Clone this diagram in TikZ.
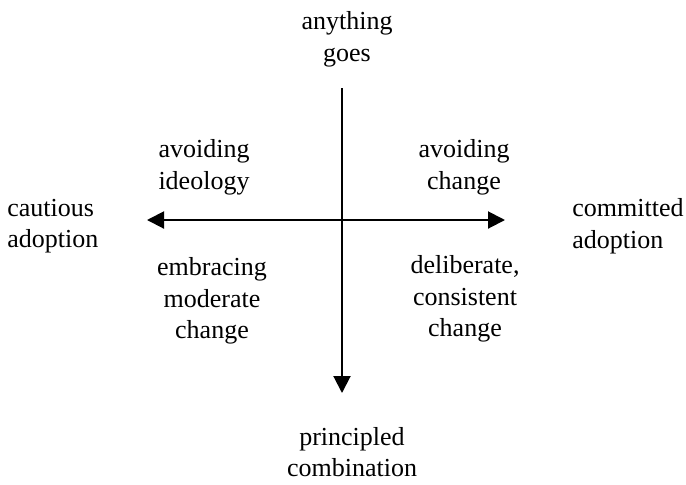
\documentclass[tikz,border=0pt]{standalone}
\usepackage{fontspec}
\setmainfont{Liberation Serif}
\usetikzlibrary{arrows.meta}

\begin{document}
\begin{tikzpicture}[x=0.5pt, y=-0.5pt]
\tikzstyle{word}=[inner sep=0pt, align=center, font=\fontsize{13}{15.8}\selectfont]
\tikzstyle{side}=[word, align=left, anchor=west]
\tikzstyle{connect}=[-{Triangle[length=8.5pt, width=8.5pt]}, line width=1pt]
\tikzstyle{both}=[{Triangle[length=8.5pt, width=8.5pt]}-{Triangle[length=8.5pt, width=8.5pt]}, line width=1pt]

\useasboundingbox (0,0) rectangle (686,484);

\coordinate (top) at (342,88);
\coordinate (bottom) at (342,393);
\coordinate (left) at (147,220);
\coordinate (right) at (505,220);

\node[word] at (347,39) (anything) {anything\\goes};
\node[word] at (352,452) (principled) {principled\\combination};
\node[side] at (7,226) (cautious) {cautious\\adoption};
\node[side] at (572,226) (committed) {committed\\adoption};
\node[word] at (204,167.5) (ideology) {avoiding\\ideology};
\node[word] at (464,167.5) (avoidchange) {avoiding\\change};
\node[word] at (212,301) (moderate) {embracing\\moderate\\change};
\node[word] at (465,299) (deliberate) {deliberate,\\consistent\\change};

\path (top) edge [connect] (bottom);
\path (left) edge [both] (right);
\end{tikzpicture}
\end{document}
